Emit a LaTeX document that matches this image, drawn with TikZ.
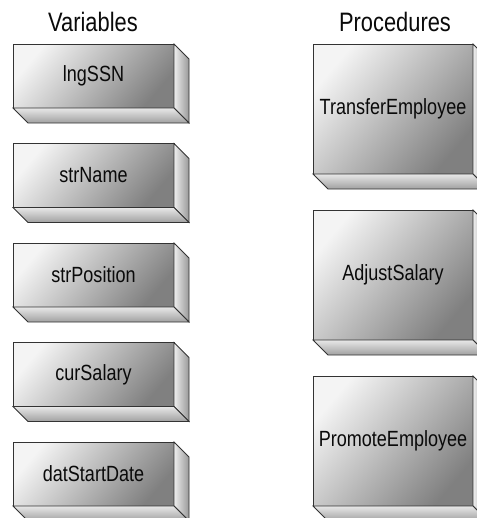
\documentclass[tikz,border=0pt]{standalone}
\usepackage{fontspec}
\setmainfont{Liberation Sans}[FakeStretch=0.82]
\usetikzlibrary{calc}

\definecolor{edge}{HTML}{333333}
\definecolor{ink}{HTML}{0A0A0A}
\definecolor{faceLight}{HTML}{F4F4F4}
\definecolor{faceMid}{HTML}{BDBDBD}
\definecolor{faceDark}{HTML}{808080}
\definecolor{sideLight}{HTML}{EEEEEE}
\definecolor{sideDark}{HTML}{999999}
\definecolor{baseLight}{HTML}{E8E8E8}
\definecolor{baseDark}{HTML}{A0A0A0}

\tikzset{
  title/.style={anchor=base, text=ink, font=\fontsize{20}{24}\selectfont, inner sep=0pt},
  front/.style={draw=edge, line width=0.6pt, inner sep=0pt, outer sep=0pt,
    anchor=north west, text=ink, font=\fontsize{16.5}{20}\selectfont,
    top color=faceLight, middle color=faceMid, bottom color=faceDark, shading angle=50},
  varbox/.style={front, minimum width=120.75pt, minimum height=48pt},
  procbox/.style={front, minimum width=120pt, minimum height=97.5pt},
  sideface/.style={draw=edge, line width=0.6pt, left color=sideLight, right color=sideDark},
  baseface/.style={draw=edge, line width=0.6pt, top color=baseLight, bottom color=baseDark},
}

% extruded right and bottom faces of a block
\newcommand{\blockfaces}[1]{%
  \path[sideface] (#1.north east) -- ++(15,15) -- ($(#1.south east)+(15,15)$)
    -- (#1.south east) -- cycle;
  \path[baseface] (#1.south west) -- (#1.south east) -- ($(#1.south east)+(15,15)$)
    -- ($(#1.south west)+(15,15)$) -- cycle;
}

\begin{document}
\begin{tikzpicture}[x=0.75pt, y=-0.75pt]
  \useasboundingbox (0,0) rectangle (476,518);

  \node[title] (tvar) at (93,31) {Variables};
  \node[title] (tproc) at (395,31) {Procedures};

  % variables
  \node[varbox] (v1) at (13,44)    {lngSSN};
  \node[varbox] (v2) at (13,143.5) {strName};
  \node[varbox] (v3) at (13,243)   {strPosition};
  \node[varbox] (v4) at (13,342.5) {curSalary};
  \node[varbox] (v5) at (13,442)   {datStartDate};
  \foreach \n in {v1,v2,v3,v4,v5} {\blockfaces{\n}}

  % procedures
  \node[procbox] (p1) at (313,44)  {TransferEmployee};
  \node[procbox] (p2) at (313,210) {AdjustSalary};
  \node[procbox] (p3) at (313,376) {PromoteEmployee};
  \foreach \n in {p1,p2,p3} {\blockfaces{\n}}
\end{tikzpicture}
\end{document}
